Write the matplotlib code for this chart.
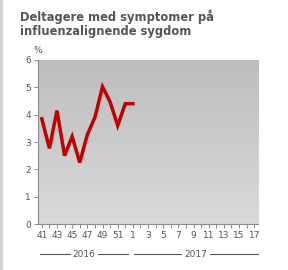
import numpy as np
import matplotlib.pyplot as plt
import matplotlib.transforms as mtransforms

# Uger 41-52 (2016) og 1-17 (2017)
weeks = [41, 42, 43, 44, 45, 46, 47, 48, 49, 50, 51, 52] + list(range(1, 18))
values = [3.85, 2.77, 4.15, 2.5, 3.2, 2.25, 3.27, 3.9, 5.02, 4.47, 3.6, 4.4, 4.4]
years = ["2016", "2017"]
title = "Deltagere med symptomer på\ninfluenzalignende sygdom"

txt = "#555555"
axc = "#8c8c8c"

fig = plt.figure(figsize=(2.88, 2.70), dpi=100)
ax = fig.add_axes([0.132, 0.170, 0.764, 0.608])

# gradient baggrund (mørk øverst, lys nederst)
grad = np.linspace(0, 1, 256).reshape(-1, 1)
cmap = plt.matplotlib.colors.LinearSegmentedColormap.from_list("g", ["#bdbdbd", "#dadada"])
ax.imshow(grad, cmap=cmap, aspect="auto", extent=[0, 1, 0, 1], origin="upper",
          transform=ax.transAxes, zorder=0)

x = np.arange(len(values))
ax.plot(x, values, color="#c00000", lw=2.5, solid_joinstyle="miter", zorder=3)

ax.set_xlim(-0.5, len(weeks) - 0.5)
ax.set_ylim(0, 6)
ax.set_yticks(range(0, 7))
ax.set_xticks(np.arange(0, len(weeks), 2))
ax.set_xticklabels([str(w) for w in weeks[::2]])
ax.set_xticks(np.arange(len(weeks)), minor=True)

for s in ["top", "right"]:
    ax.spines[s].set_visible(False)
for s in ["left", "bottom"]:
    ax.spines[s].set_color(axc)
    ax.spines[s].set_linewidth(0.8)
ax.tick_params(which="both", colors=axc, labelcolor=txt, labelsize=6.5, length=3, width=0.7, pad=2)
ax.tick_params(axis="x", which="minor", length=3)

ax.text(0.0, 1.03, "%", transform=ax.transAxes, ha="center", va="bottom",
        fontsize=6.5, color=txt)

# år under aksen
tr = mtransforms.blended_transform_factory(ax.transData, ax.transAxes)
yy = -0.185
for (a, b), yr in zip([(-0.2, 11.3), (12.1, 28.5)], years):
    c = (a + b) / 2
    ax.text(c, yy, yr, transform=tr, ha="center", va="center", fontsize=6.5, color=txt)
    hw = 1.9
    ax.plot([a, c - hw], [yy, yy], transform=tr, color=txt, lw=0.8, clip_on=False)
    ax.plot([c + hw, b], [yy, yy], transform=tr, color=txt, lw=0.8, clip_on=False)

fig.text(0.07, 0.965, title, ha="left", va="top", fontsize=8.3, fontweight="bold",
         color=txt, linespacing=1.05)

# grå kant til venstre
fig.patches.append(plt.Rectangle((0, 0), 0.008, 1, transform=fig.transFigure,
                                 color="#d4d4d4", zorder=0))

fig.savefig("out.png", dpi=100)
